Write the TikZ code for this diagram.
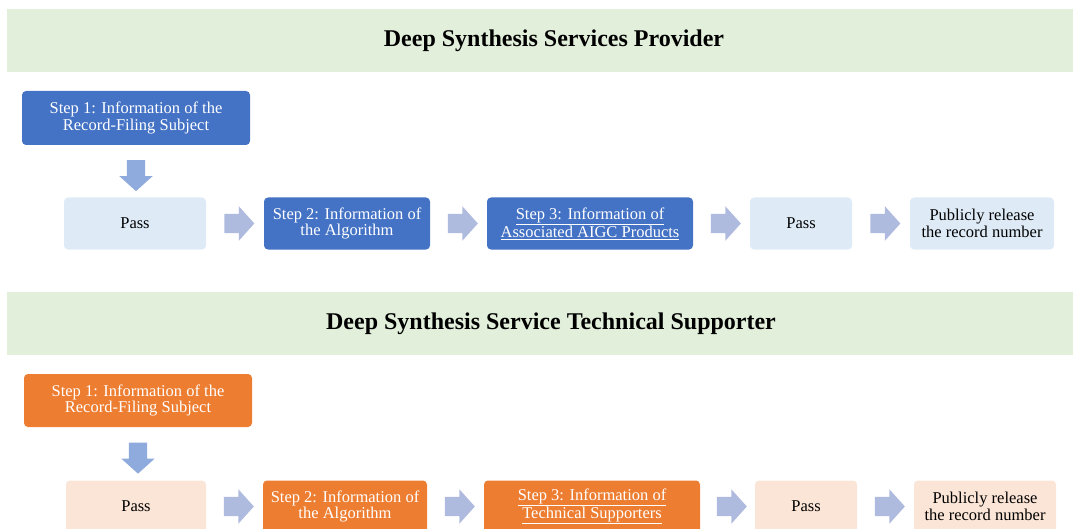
\documentclass[tikz,border=0pt]{standalone}
\usepackage{fontspec}
\setmainfont{Liberation Serif}
\usetikzlibrary{positioning, shapes.arrows, calc}
\definecolor{bandgreen}{HTML}{E2EFDA}
\definecolor{stepblue}{HTML}{4472C4}
\definecolor{paleblue}{HTML}{DEEBF7}
\definecolor{steporange}{HTML}{ED7D31}
\definecolor{paleorange}{HTML}{FBE5D6}
\definecolor{arrowblue}{HTML}{AFBADF}
\definecolor{downblue}{HTML}{8FAADC}

\tikzset{
  band/.style={fill=bandgreen, minimum width=1066pt, minimum height=63pt, inner sep=0pt},
  headtitle/.style={font=\fontsize{24}{28}\selectfont\bfseries, inner sep=0pt},
  stepbox/.style={rounded corners=4pt, align=center, inner sep=0pt,
                  minimum height=52pt, font=\fontsize{16.5}{16.5}\selectfont},
  rowarrow/.style={single arrow, fill=arrowblue, minimum height=30pt, inner xsep=0pt,
                   inner ysep=9.5pt, single arrow head extend=7.5pt, single arrow tip angle=96},
  downarrow/.style={rowarrow, fill=downblue, shape border rotate=270, minimum height=31pt,
                    inner xsep=9pt, inner ysep=0pt}
}

\begin{document}
\begin{tikzpicture}[x=1pt, y=-1pt]
  \useasboundingbox (0,0) rectangle (1075,529);

  % provider
  \node[band] (bandA) at (540,40.5) {};
  \node[headtitle] (titleA) at (554,41) {Deep Synthesis Services Provider};
  \node[stepbox, fill=stepblue, text=white, minimum width=228pt, minimum height=54pt]
    (subjA) at (136,118) {Step 1: Information of the\\Record-Filing Subject};
  \node[stepbox, fill=paleblue, minimum width=142pt] (passA) at (135,223.5) {Pass};
  \node[stepbox, fill=stepblue, text=white, minimum width=166pt] (algoA) at (347,223.5)
    {Step 2: Information of\\the Algorithm};
  \node[stepbox, fill=stepblue, text=white, minimum width=206pt] (prodA) at (590,223.5)
    {\underline{Step 3: Information of}\\\underline{Associated AIGC Products}};
  \node[stepbox, fill=paleblue, minimum width=102pt] (okA) at (801,223.5) {Pass};
  \node[stepbox, fill=paleblue, minimum width=144pt] (pubA) at (982,223.5)
    {Publicly release\\the record number};
  \node[downarrow] (dA) at (136,171.5) {};
  \node[rowarrow] (rA1) at ($(passA.east)!0.5!(algoA.west)$) {};
  \node[rowarrow] (rA2) at ($(algoA.east)!0.5!(prodA.west)$) {};
  \node[rowarrow] (rA3) at ($(prodA.east)!0.5!(okA.west)$) {};
  \node[rowarrow] (rA4) at ($(okA.east)!0.5!(pubA.west)$) {};

  % technical supporter
  \node[band] (bandB) at (540,323.5) {};
  \node[headtitle] (titleB) at (551,324) {Deep Synthesis Service Technical Supporter};
  \node[stepbox, fill=steporange, text=white, minimum width=228pt, minimum height=53pt]
    (subjB) at (138,400.5) {Step 1: Information of the\\Record-Filing Subject};
  \node[stepbox, fill=paleorange, minimum width=140pt] (passB) at (136,506.5) {Pass};
  \node[stepbox, fill=steporange, text=white, minimum width=164pt] (algoB) at (345,506.5)
    {Step 2: Information of\\the Algorithm};
  \node[stepbox, fill=steporange, text=white, minimum width=216pt] (techB) at (592,506.5)
    {\underline{Step 3: Information of}\\\underline{Technical Supporters}};
  \node[stepbox, fill=paleorange, minimum width=102pt] (okB) at (806,506.5) {Pass};
  \node[stepbox, fill=paleorange, minimum width=142pt] (pubB) at (985,506.5)
    {Publicly release\\the record number};
  \node[downarrow] (dB) at (138,454) {};
  \node[rowarrow] (rB1) at ($(passB.east)!0.5!(algoB.west)$) {};
  \node[rowarrow] (rB2) at ($(algoB.east)!0.5!(techB.west)$) {};
  \node[rowarrow] (rB3) at ($(techB.east)!0.5!(okB.west)$) {};
  \node[rowarrow] (rB4) at ($(okB.east)!0.5!(pubB.west)$) {};
\end{tikzpicture}
\end{document}
